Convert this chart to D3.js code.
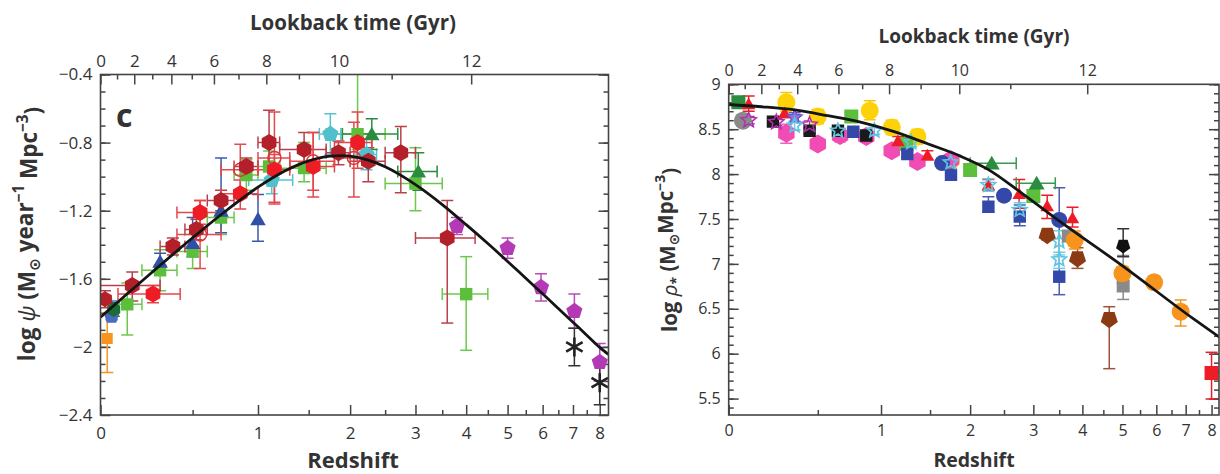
<!DOCTYPE html>
<html>
<head>
<meta charset="utf-8">
<script src="https://cdn.jsdelivr.net/npm/d3@7"></script>
<style>
  body { margin: 0; background: #fff; }
  svg text { font-family: "Open Sans", "DejaVu Sans", sans-serif; fill: #333; }
</style>
</head>
<body>
<svg id="chart" width="1220" height="474"></svg>
<script>
// Cosmic star-formation rate density (left) and stellar mass density (right)
// against redshift, with a lookback-time axis on top.

// ---- axis ticks ----
const redshiftTicks = [0, 1, 2, 3, 4, 5, 6, 7, 8];
const redshiftMinorTicks = [0.5, 1.5, 2.5, 3.5, 4.5, 5.5, 6.5, 7.5];
const lookbackTicks = [0, 2, 4, 6, 8, 10, 12];
const lookbackMinorTicks = [1, 3, 5, 7, 9, 11];
const sfrdTicks = [-2.4, -2, -1.6, -1.2, -0.8, -0.4];
const massTicks = [5.5, 6, 6.5, 7, 7.5, 8, 8.5, 9];

// ---- fitted curves ----
const sfrdFitZ = [0, 0.1, 0.25, 0.5, 0.75, 1, 1.25, 1.5, 1.75, 1.9, 2, 2.25, 2.5, 3, 3.5, 4, 4.5, 5, 5.5, 6, 6.5, 7, 7.5, 8, 8.35];
const sfrdFitLog = [-1.825, -1.714, -1.566, -1.359, -1.193, -1.062, -0.967, -0.907, -0.879, -0.877, -0.880, -0.903, -0.942,
  -1.047, -1.164, -1.282, -1.393, -1.498, -1.597, -1.688, -1.774, -1.855, -1.931, -2.003, -2.044];
const massFitZ = [0, 0.16, 0.35, 0.57, 0.83, 1.13, 1.48, 1.87, 2.26, 2.77, 3.52, 5.03, 7.28, 8.35];
const massFitLog = [8.775, 8.75, 8.715, 8.65, 8.575, 8.47, 8.335, 8.20, 8.05, 7.80, 7.47, 6.97, 6.39, 6.18];

// ---- left panel points: [z, zLow, zHigh, log psi, errUp, errDown] ----
const sandersIR = [[0.02, null, null, -1.72, 0.05, 0.05]];
const takeuchiIR = [[0.03, null, null, -1.95, 0.15, 0.20]];
const robothamUV = [[0.06, null, null, -1.78, 0.04, 0.04]];
const wyderUV = [[0.05, null, null, -1.82, 0.09, 0.02]];
const schiminovichUV = [
  [0.3, null, null, -1.50, 0.05, 0.05], [0.5, null, null, -1.39, 0.15, 0.08],
  [0.7, null, null, -1.20, 0.31, 0.13], [1.0, null, null, -1.25, 0.145, 0.13]];
const cucciatiUV = [
  [0.125, 0.05, 0.2, -1.75, 0.125, 0.18], [0.3, 0.2, 0.4, -1.55, 0.12, 0.12], [0.5, 0.4, 0.6, -1.44, 0.10, 0.10],
  [0.7, 0.6, 0.8, -1.24, 0.10, 0.10], [0.9, 0.8, 1.0, -0.99, 0.09, 0.09], [1.1, 1.0, 1.2, -0.94, 0.09, 0.09],
  [1.45, 1.2, 1.7, -0.95, 0.15, 0.08], [2.1, 1.7, 2.5, -0.75, 0.49, 0.09], [3.0, 2.5, 3.5, -1.04, 0.21, 0.16],
  [4.0, 3.5, 4.5, -1.69, 0.22, 0.33]];
const dahlenUV = [[1.125, 0.92, 1.33, -1.02, 0.08, 0.08], [1.75, 1.62, 1.88, -0.75, 0.12, 0.12], [2.225, 2.08, 2.37, -0.87, 0.09, 0.09]];
const reddyUV = [[2.3, 1.9, 2.7, -0.75, 0.09, 0.09], [3.05, 2.7, 3.4, -0.97, 0.11, 0.11]];
const bouwensUV = [
  [3.8, null, null, -1.29, 0.05, 0.05], [5.0, null, null, -1.42, 0.06, 0.06], [5.95, null, null, -1.65, 0.08, 0.08],
  [7.05, null, null, -1.79, 0.10, 0.10], [8.0, null, null, -2.09, 0.11, 0.11]];
const schenkerUV = [[7.05, null, null, -2.00, 0.11, 0.11], [8.0, null, null, -2.21, 0.13, 0.13]];
const magnelli11IR = [
  [0.55, 0.4, 0.7, -1.34, 0.20, 0.20], [0.85, 0.7, 1.0, -0.96, 0.15, 0.15], [1.15, 1.0, 1.3, -0.89, 0.27, 0.27],
  [1.55, 1.3, 1.8, -0.91, 0.17, 0.17], [2.05, 1.8, 2.3, -0.89, 0.21, 0.23]];
const magnelli13IR = [
  [0.26, 0.08, 0.42, -1.69, 0.05, 0.05], [0.55, 0.4, 0.7, -1.21, 0.07, 0.07], [0.85, 0.7, 1.0, -1.10, 0.08, 0.09],
  [1.15, 1.0, 1.3, -0.96, 0.09, 0.19], [1.55, 1.3, 1.8, -0.94, 0.20, 0.18], [2.1, 1.8, 2.3, -0.80, 0.18, 0.15]];
const gruppioniIR = [
  [0.15, 0.0, 0.3, -1.64, 0.08, 0.09], [0.375, 0.3, 0.45, -1.41, 0.05, 0.05], [0.525, 0.45, 0.6, -1.31, 0.06, 0.06],
  [0.7, 0.6, 0.8, -1.14, 0.06, 0.06], [0.9, 0.8, 1.0, -0.94, 0.05, 0.06], [1.1, 1.0, 1.2, -0.80, 0.19, 0.15],
  [1.45, 1.2, 1.7, -0.84, 0.10, 0.08], [1.85, 1.7, 2.0, -0.86, 0.07, 0.07], [2.25, 2.0, 2.5, -0.91, 0.08, 0.12],
  [2.75, 2.5, 3.0, -0.86, 0.155, 0.235], [3.6, 3.0, 4.2, -1.36, 0.22, 0.50]];

// ---- right panel points: [z, zLow, zHigh, log rho*, errUp, errDown] ----
const liWhite = [[0.067, null, null, 8.595, 0.05, 0.05]];
const gallazzi = [[0.045, null, null, 8.80, 0.04, 0.04]];
const moustakas = [[0.223, null, null, 8.584, 0.03, 0.03], [0.445, null, null, 8.483, 0.03, 0.03],
  [0.644, null, null, 8.483, 0.03, 0.03], [0.87, null, null, 8.43, 0.03, 0.03]];
const bielby = [[0.095, null, null, 8.60, 0.04, 0.04], [0.242, null, null, 8.577, 0.04, 0.04], [0.445, null, null, 8.55, 0.04, 0.04]];
const blueStars = [[0.35, null, null, 8.632, 0.05, 0.05]];
const ilbert = [[0.3, null, null, 8.454, 0.10, 0.11], [0.5, null, null, 8.335, 0.04, 0.04], [0.66, null, null, 8.43, 0.06, 0.07],
  [0.87, null, null, 8.42, 0.05, 0.05], [1.1, null, null, 8.26, 0.05, 0.05], [1.36, null, null, 8.14, 0.05, 0.05],
  [1.75, null, null, 8.16, 0.05, 0.05]];
const muzzin = [[0.3, null, null, 8.80, 0.11, 0.10], [0.5, null, null, 8.64, 0.08, 0.08], [0.9, null, null, 8.706, 0.11, 0.10],
  [1.1, null, null, 8.52, 0.08, 0.08], [1.36, null, null, 8.416, 0.08, 0.08], [1.75, null, null, 8.15, 0.06, 0.06]];
const arnouts = [[0.095, null, null, 8.78, 0.09, 0.08], [0.29, null, null, 8.68, 0.05, 0.05], [1.16, null, null, 8.37, 0.05, 0.05],
  [1.47, null, null, 8.21, 0.05, 0.05], [2.26, null, null, 7.88, 0.06, 0.06], [2.75, null, null, 7.78, 0.16, 0.16],
  [3.26, null, null, 7.645, 0.12, 0.14], [3.78, null, null, 7.51, 0.12, 0.10]];
const pozzetti = [[0.747, null, null, 8.64, 0.04, 0.04], [1.244, null, null, 8.335, 0.04, 0.04],
  [2.0, null, null, 8.046, 0.04, 0.04], [3.0, null, null, 7.756, 0.04, 0.04]];
const kajisawa = [[2.31, 2.0, 2.7, 8.12, 0, 0], [3.06, 2.7, 3.42, 7.898, 0, 0]];
const perezGonzalez = [[0.763, null, null, 8.472, 0.03, 0.03], [1.254, null, null, 8.224, 0.04, 0.04],
  [1.75, null, null, 7.993, 0.04, 0.04], [2.26, null, null, 7.637, 0.11, 0.06], [2.76, null, null, 7.526, 0.13, 0.10],
  [3.5, null, null, 6.857, 0.99, 0.20]];
const marchesini = [[1.64, null, null, 8.123, 0.03, 0.03], [2.5, null, null, 7.76, 0.03, 0.03], [3.5, null, null, 7.49, 0.04, 0.04]];
const santini = [[0.35, null, null, 8.54, 0.05, 0.05], [0.644, null, null, 8.483, 0.04, 0.04], [0.94, null, null, 8.483, 0.04, 0.04],
  [1.295, null, null, 8.354, 0.05, 0.05], [1.745, null, null, 8.13, 0.05, 0.05], [2.26, null, null, 7.879, 0.07, 0.07],
  [2.76, null, null, 7.60, 0.08, 0.08], [3.5, null, null, 7.25, 0.12, 0.12], [3.5, null, null, 7.05, 0.05, 0.10]];
const caputi = [[3.26, null, null, 7.32, 0.05, 0.05], [3.89, null, null, 7.06, 0.12, 0.11], [4.65, null, null, 6.383, 0.14, 0.55]];
const leeGray = [[3.69, null, null, 7.31, 0.05, 0.05], [5.02, null, null, 6.754, 0.34, 0.15]];
const gonzalez = [[3.83, null, null, 7.266, 0.10, 0.10], [5.0, null, null, 6.895, 0.075, 0.11],
  [5.93, null, null, 6.795, 0.07, 0.07], [6.82, null, null, 6.468, 0.13, 0.16]];
const yabe = [[5.02, null, null, 7.20, 0.19, 0.12]];
const labbe = [[8.0, null, null, 5.785, 0.23, 0.29]];

// ---- cosmology for the lookback-time axis (H0 = 70, flat, Om = 0.3) ----
const HUBBLE_TIME = 977.8 / 70, OMEGA_M = 0.3, OMEGA_L = 0.7;
const A_COSMO = 1.5 * Math.sqrt(OMEGA_L) / HUBBLE_TIME;
const Q_COSMO = Math.sqrt(OMEGA_L / OMEGA_M);
const AGE_NOW = Math.asinh(Q_COSMO) / A_COSMO;
function zFromLookback(t) {
  return Math.pow(Math.sinh((AGE_NOW - t) * A_COSMO) / Q_COSMO, -2 / 3) - 1;
}

// ---- marker shapes ----
function polygon(n, r, rot, dy) {
  let pts = d3.range(n).map(i => {
    let a = rot + i * 2 * Math.PI / n;
    return [r * Math.cos(a), r * Math.sin(a) + (dy || 0)];
  });
  return "M" + pts.map(p => p[0].toFixed(2) + "," + p[1].toFixed(2)).join("L") + "Z";
}
function starPath(r) {
  let pts = d3.range(10).map(i => {
    let a = -Math.PI / 2 + i * Math.PI / 5, rr = i % 2 ? r * 0.45 : r;
    return [rr * Math.cos(a), rr * Math.sin(a)];
  });
  return "M" + pts.map(p => p[0].toFixed(2) + "," + p[1].toFixed(2)).join("L") + "Z";
}
function asteriskPath(r) {
  return [90, 30, -30].map(deg => {
    let a = deg * Math.PI / 180, c = r * Math.cos(a), s = r * Math.sin(a);
    return "M" + (-c) + "," + (-s) + "L" + c + "," + s;
  }).join("");
}
let shapes = {
  circle: r => `M${r},0A${r},${r} 0 1,1 ${-r},0A${r},${r} 0 1,1 ${r},0Z`,
  square: r => `M${-r},${-r}H${r}V${r}H${-r}Z`,
  triangle: r => polygon(3, r * 1.15, -Math.PI / 2, r * 0.2),
  pentagon: r => polygon(5, r, -Math.PI / 2),
  pentagonDown: r => polygon(5, r, Math.PI / 2),
  hexagon: r => polygon(6, r, -Math.PI / 2),
  star: r => starPath(r),
  asterisk: r => asteriskPath(r)
};

// ---- series styles ----
let leftSeries = [
  {data: takeuchiIR, shape: "square", r: 5.5, fill: "#f7941d", err: "#f7941d"},
  {data: cucciatiUV, shape: "square", r: 6.2, fill: "#5cbf3c", err: "#6cc84d"},
  {data: schiminovichUV, shape: "triangle", r: 7.8, fill: "#3050a8", err: "#3a58b0"},
  {data: wyderUV, shape: "pentagon", r: 8, fill: "#4a6cc0", err: "#4a6cc0"},
  {data: robothamUV, shape: "hexagon", r: 7.5, fill: "#1d6b35", err: "#1d6b35"},
  {data: dahlenUV, shape: "pentagon", r: 8.5, fill: "#4fc0cc", err: "#55c4d0"},
  {data: reddyUV, shape: "triangle", r: 7.8, fill: "#2b8c3f", err: "#2b8c3f"},
  {data: magnelli11IR, shape: "circle", r: 6.5, fill: "none", stroke: "#e0343a", sw: 1.5, err: "#e04a50"},
  {data: gruppioniIR, shape: "hexagon", r: 8.5, fill: "#b3202a", err: "#b9404a"},
  {data: sandersIR, shape: "hexagon", r: 8, fill: "#b3202a", err: "#b9404a"},
  {data: magnelli13IR, shape: "hexagon", r: 8.5, fill: "#ee1c25", err: "#e8454b"},
  {data: bouwensUV, shape: "pentagon", r: 8.5, fill: "#b33ab4", err: "#b84cb8"},
  {data: schenkerUV, shape: "asterisk", r: 9.5, fill: "none", stroke: "#222", sw: 2.6, err: "#333"}
];
let rightSeries = [
  {data: gallazzi, shape: "square", r: 7, fill: "#2b8c3f", err: "#2b8c3f"},
  {data: liWhite, shape: "circle", r: 9, fill: "#8a8a8a", err: "#8a8a8a"},
  {data: muzzin, shape: "circle", r: 9, fill: "#fdd20a", err: "#f5c800"},
  {data: ilbert, shape: "hexagon", r: 9.5, fill: "#f04cb4", err: "#f060bc"},
  {data: pozzetti, shape: "square", r: 7, fill: "#5cbf3c", err: "#5cbf3c"},
  {data: moustakas, shape: "square", r: 6.2, fill: "#1a1a1a", err: "#1a1a1a"},
  {data: arnouts, shape: "triangle", r: 6.8, fill: "#ee1c25", err: "#ee1c25"},
  {data: perezGonzalez, shape: "square", r: 6.2, fill: "#3348a8", err: "#4a5cb4"},
  {data: marchesini, shape: "circle", r: 8, fill: "#3348a8", err: "#3348a8"},
  {data: bielby, shape: "star", r: 8, fill: "none", stroke: "#b030b0", sw: 1.5, err: "#b030b0"},
  {data: blueStars, shape: "star", r: 8, fill: "#8a78d8", stroke: "#6a50c0", sw: 1.2, err: "#6a50c0"},
  {data: santini, shape: "star", r: 7.5, fill: "none", stroke: "#60c4e0", sw: 1.7, err: "#70cce6"},
  {data: kajisawa, shape: "triangle", r: 8, fill: "#2b8c3f", err: "#3a9a4c"},
  {data: caputi, shape: "pentagonDown", r: 9, fill: "#8b3a14", err: "#a0523a"},
  {data: leeGray, shape: "square", r: 6.5, fill: "#8a8a8a", err: "#8a8a8a"},
  {data: gonzalez, shape: "circle", r: 9, fill: "#f7941d", err: "#f7941d"},
  {data: yabe, shape: "pentagonDown", r: 7.5, fill: "#111", err: "#333"},
  {data: labbe, shape: "square", r: 7, fill: "#ee1c25", err: "#ee1c25"}
];

let svg = d3.select("#chart");
const AXIS_COLOR = "#444";

function drawPanel(cfg) {
  let x = d3.scaleLog().domain([1, 1 + cfg.zMax]).range([cfg.left, cfg.right]);
  let y = d3.scaleLinear().domain(cfg.yDomain).range([cfg.bottom, cfg.top]);
  let g = svg.append("g");

  let styleAxis = function(sel, fs) {
    sel.select(".domain").remove();
    sel.attr("font-family", null).attr("font-size", fs);
    sel.selectAll(".tick line").attr("stroke", AXIS_COLOR).attr("stroke-width", 1.5);
    sel.selectAll(".tick text").attr("fill", "#333");
  };
  let fmt = d => d3.format("")(d).replace("-", "\u2212");

  // bottom: redshift
  g.append("g").attr("transform", "translate(0," + cfg.bottom + ")")
    .call(d3.axisBottom(x).tickValues(redshiftTicks.map(z => 1 + z)).tickFormat((d, i) => redshiftTicks[i])
      .tickSize(-10).tickPadding(cfg.padBottom))
    .call(styleAxis, cfg.fs);
  g.append("g").attr("transform", "translate(0," + cfg.bottom + ")")
    .call(d3.axisBottom(x).tickValues(redshiftMinorTicks.map(z => 1 + z)).tickFormat("").tickSize(-5))
    .call(styleAxis, cfg.fs);

  // top: lookback time
  g.append("g").attr("transform", "translate(0," + cfg.top + ")")
    .call(d3.axisTop(x).tickValues(lookbackTicks.map(t => 1 + zFromLookback(t))).tickFormat((d, i) => lookbackTicks[i])
      .tickSize(-10).tickPadding(cfg.padTop))
    .call(styleAxis, cfg.fs);
  g.append("g").attr("transform", "translate(0," + cfg.top + ")")
    .call(d3.axisTop(x).tickValues(lookbackMinorTicks.map(t => 1 + zFromLookback(t))).tickFormat("").tickSize(-5))
    .call(styleAxis, cfg.fs);

  // left and right: value axis
  let minor = d3.range(Math.round(cfg.yDomain[0] * 10 + 0.5), Math.round(cfg.yDomain[1] * 10) + 1).map(v => v / 10);
  [["axisLeft", cfg.left], ["axisRight", cfg.right]].forEach(function(side, k) {
    g.append("g").attr("transform", "translate(" + side[1] + ",0)")
      .call(d3[side[0]](y).tickValues(cfg.yTicks).tickFormat(k ? "" : fmt).tickSize(-10).tickPadding(cfg.padLeft))
      .call(styleAxis, cfg.fs);
    g.append("g").attr("transform", "translate(" + side[1] + ",0)")
      .call(d3[side[0]](y).tickValues(minor).tickFormat("").tickSize(-5))
      .call(styleAxis, cfg.fs);
  });

  // points
  let clipId = "clip" + cfg.id;
  svg.append("clipPath").attr("id", clipId).append("rect")
    .attr("x", cfg.left).attr("y", cfg.top).attr("width", cfg.right - cfg.left).attr("height", cfg.bottom - cfg.top);
  let plot = g.append("g").attr("clip-path", "url(#" + clipId + ")");

  let capHalf = cfg.cap;
  let bars = plot.append("g").attr("fill", "none").attr("stroke-width", 1.5);
  cfg.series.forEach(function(s) {
    s.data.forEach(function(row) {
      let cx = x(1 + row[0]), cy = y(row[3]);
      let eg = bars.append("g").attr("stroke", s.err);
      if (row[4] > 0 || row[5] > 0) {
        let yt = y(row[3] + row[4]), yb = y(row[3] - row[5]);
        eg.append("line").attr("x1", cx).attr("x2", cx).attr("y1", yt).attr("y2", yb);
        if (row[4] > 0) eg.append("line").attr("x1", cx - capHalf).attr("x2", cx + capHalf).attr("y1", yt).attr("y2", yt);
        if (row[5] > 0) eg.append("line").attr("x1", cx - capHalf).attr("x2", cx + capHalf).attr("y1", yb).attr("y2", yb);
      }
      if (row[1] !== null) {
        let xl = x(1 + row[1]), xr = x(1 + row[2]);
        eg.append("line").attr("x1", xl).attr("x2", xr).attr("y1", cy).attr("y2", cy);
        eg.append("line").attr("x1", xl).attr("x2", xl).attr("y1", cy - capHalf).attr("y2", cy + capHalf);
        eg.append("line").attr("x1", xr).attr("x2", xr).attr("y1", cy - capHalf).attr("y2", cy + capHalf);
      }
    });
  });
  cfg.series.forEach(function(s) {
    plot.append("g").selectAll("path").data(s.data).enter().append("path")
      .attr("transform", d => "translate(" + x(1 + d[0]) + "," + y(d[3]) + ")")
      .attr("d", shapes[s.shape](s.r))
      .attr("fill", s.fill)
      .attr("stroke", s.stroke || "none")
      .attr("stroke-width", s.sw || 0);
  });

  // fitted curve on top
  let line = d3.line().x(d => x(1 + d[0])).y(d => y(d[1])).curve(d3.curveMonotoneX);
  plot.append("path").datum(d3.zip(cfg.fitZ, cfg.fitLog))
    .attr("d", line).attr("fill", "none").attr("stroke", "#151515").attr("stroke-width", 2.8);

  // frame
  g.append("rect").attr("x", cfg.left).attr("y", cfg.top)
    .attr("width", cfg.right - cfg.left).attr("height", cfg.bottom - cfg.top)
    .attr("fill", "none").attr("stroke", AXIS_COLOR).attr("stroke-width", 1.6);

  // titles
  g.append("text").attr("x", cfg.titleX).attr("y", cfg.titleY)
    .attr("text-anchor", "middle").attr("font-weight", "bold").attr("font-size", cfg.titleFs)
    .text("Lookback time (Gyr)");
  g.append("text").attr("x", cfg.titleX).attr("y", cfg.xLabelY)
    .attr("text-anchor", "middle").attr("font-weight", "bold").attr("font-size", cfg.xLabelFs)
    .text("Redshift");

  let yl = g.append("text").attr("transform", "translate(" + cfg.yLabelX + "," + cfg.yLabelY + ") rotate(-90)")
    .attr("text-anchor", "middle").attr("font-weight", "bold").attr("font-size", cfg.yLabelFs);
  cfg.yLabel.forEach(function(part) {
    let t = yl.append("tspan").text(part.t);
    if (part.italic) t.attr("font-style", "italic").attr("font-weight", "normal");
    if (part.dy) t.attr("dy", part.dy);
    if (part.small) t.attr("font-size", cfg.yLabelFs * 0.68);
  });
  return g;
}

drawPanel({
  id: "L", left: 100.5, right: 608.5, top: 74.5, bottom: 415, zMax: 8.354,
  yDomain: [-2.4, -0.4], yTicks: sfrdTicks, series: leftSeries, fitZ: sfrdFitZ, fitLog: sfrdFitLog,
  fs: 17, padBottom: 12, padTop: 8, padLeft: 8, cap: 6,
  titleX: 353, titleY: 30, titleFs: 20.5, xLabelY: 468, xLabelFs: 22,
  yLabelX: 35, yLabelY: 234, yLabelFs: 22.5,
  yLabel: [{t: "log "}, {t: "\u03c8", italic: true}, {t: " (M"}, {t: "\u2299", small: true, dy: "0.3em"},
    {t: " year", dy: "-0.3em"}, {t: "\u22121", small: true, dy: "-0.55em"}, {t: " Mpc", dy: "0.55em"},
    {t: "\u22123", small: true, dy: "-0.55em"}, {t: ")", dy: "0.55em"}]
});
svg.append("text").attr("x", 116).attr("y", 127).attr("font-weight", "bold").attr("font-size", 32).text("c");

drawPanel({
  id: "R", left: 728.7, right: 1219, top: 84.3, bottom: 415, zMax: 8.31,
  yDomain: [5.317, 9], yTicks: massTicks, series: rightSeries, fitZ: massFitZ, fitLog: massFitLog,
  fs: 16, padBottom: 10, padTop: 8, padLeft: 8, cap: 6,
  titleX: 974, titleY: 43, titleFs: 19, xLabelY: 467, xLabelFs: 19.5,
  yLabelX: 677, yLabelY: 250, yLabelFs: 20.5,
  yLabel: [{t: "log "}, {t: "\u03c1", italic: true}, {t: "*", small: true, dy: "0.3em"}, {t: " (M", dy: "-0.3em"},
    {t: "\u2299", small: true, dy: "0.3em"}, {t: "Mpc", dy: "-0.3em"}, {t: "\u22123", small: true, dy: "-0.55em"},
    {t: ")", dy: "0.55em"}]
});
</script>
</body>
</html>
